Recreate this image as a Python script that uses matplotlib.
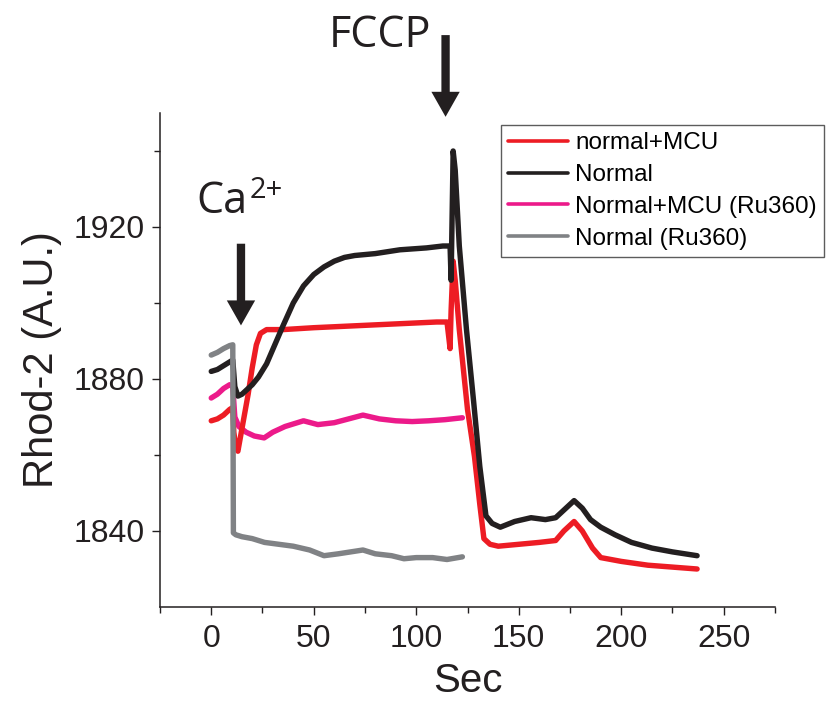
import matplotlib
matplotlib.use("Agg")
import matplotlib.pyplot as plt
from matplotlib.ticker import FixedLocator
from matplotlib import font_manager

names = {f.name for f in font_manager.fontManager.ttflist}
SANS = "Liberation Sans" if "Liberation Sans" in names else "DejaVu Sans"
ANNOT = "Open Sans" if "Open Sans" in names else SANS

# ---------------- data ----------------
t_red = [0, 3, 6, 9, 10.5, 11, 12, 13, 16, 18, 20, 22, 24, 27, 35, 50, 70, 90, 110, 115,
         116.5, 117, 118, 119, 121, 125, 128.4, 131, 133, 136, 140, 150, 160, 168, 172, 177,
         181, 186, 190, 200, 213, 225, 237]
v_red = [1869, 1869.5, 1870.5, 1872, 1872.5, 1866, 1862, 1861, 1870, 1876, 1883, 1889,
         1892, 1893, 1893, 1893.5, 1894, 1894.5, 1895, 1895,
         1888, 1898, 1911, 1906, 1893, 1872, 1859.6, 1847, 1838, 1836.5, 1836, 1836.5, 1837,
         1837.5, 1840, 1842.5, 1840, 1835.5, 1833, 1832, 1831, 1830.5, 1830]

t_black = [0, 3, 6, 9, 10.5, 11.5, 13, 15, 17, 20, 23, 27, 31, 35, 40, 45, 50, 55, 60, 65,
           70, 80, 92, 105, 113, 116.5, 117, 118, 119, 121, 124.5, 128, 131, 134, 137, 141,
           148, 156, 163, 168, 172, 177, 181, 185, 190, 197, 205, 215, 225, 237]
v_black = [1882, 1882.5, 1883.5, 1884.5, 1885, 1878, 1875.5, 1876, 1877, 1878.5, 1880.5,
           1884, 1889, 1894, 1900, 1904.5, 1907.5, 1909.5, 1911, 1912, 1912.5, 1913, 1914,
           1914.5, 1915, 1915, 1906, 1940, 1935, 1915, 1893, 1874, 1857, 1844, 1842, 1841,
           1842.5, 1843.5, 1843, 1843.5, 1845.5, 1848, 1846, 1843, 1841, 1839, 1837, 1835.5,
           1834.5, 1833.5]

t_pink = [0, 3, 6, 9, 10.5, 11.5, 13.5, 17, 21, 25.8, 30, 36, 45, 52, 60, 67, 74, 82, 90,
          98, 106, 114, 122.5]
v_pink = [1875, 1876, 1877.5, 1878.5, 1878, 1870, 1867.5, 1866, 1865, 1864.5, 1866, 1867.5,
          1869, 1868, 1868.5, 1869.5, 1870.5, 1869.5, 1869, 1868.8, 1869, 1869.3, 1869.8]

t_gray = [0, 3, 6, 9, 10.5, 10.8, 12, 15, 20, 26, 33, 40, 48, 55, 62, 68, 74, 80, 88, 94,
          100, 108, 115, 122.5]
v_gray = [1886.3, 1887, 1888, 1888.8, 1889, 1839.5, 1839, 1838.5, 1838, 1837, 1836.5, 1836,
          1835, 1833.5, 1834, 1834.5, 1835, 1834, 1833.5, 1832.7, 1833, 1833, 1832.5, 1833.2]

labels = ["normal+MCU", "Normal", "Normal+MCU (Ru360)", "Normal (Ru360)"]
colors = ["#ed1c24", "#231f20", "#ec1a8a", "#808285"]

x_major = [0, 50, 100, 150, 200, 250]
x_minor = [-25, 25, 75, 125, 175, 225, 275]
y_major = [1840, 1880, 1920]
y_minor = [1860, 1900, 1940]

# ---------------- figure ----------------
fig = plt.figure(figsize=(8.29, 7.07), dpi=100)
ax = fig.add_axes([160 / 829, 100 / 707, 615 / 829, 494 / 707])

lw = 3.9
series = [(t_red, v_red), (t_black, v_black), (t_pink, v_pink), (t_gray, v_gray)]
zorders = [3, 4, 2, 5]
handles = []
for (t, v), c, lab, z in zip(series, colors, labels, zorders):
    h, = ax.plot(t, v, color=c, lw=lw, label=lab, zorder=z, solid_joinstyle="round",
                 solid_capstyle="round")
    handles.append(h)

ax.set_xlim(-25, 275)
ax.set_ylim(1820, 1950)
ax.xaxis.set_major_locator(FixedLocator(x_major))
ax.xaxis.set_minor_locator(FixedLocator(x_minor))
ax.yaxis.set_major_locator(FixedLocator(y_major))
ax.yaxis.set_minor_locator(FixedLocator(y_minor))

for s in ["top", "right"]:
    ax.spines[s].set_visible(False)
for s in ["left", "bottom"]:
    ax.spines[s].set_linewidth(1.1)
    ax.spines[s].set_color("#231f20")

ax.tick_params(which="major", direction="out", length=6, width=1.0, color="#231f20",
               labelcolor="#231f20", labelsize=23)
ax.tick_params(which="minor", direction="out", length=4, width=1.0, color="#231f20")
ax.tick_params(axis="x", which="major", pad=6)
ax.tick_params(axis="y", which="major", pad=5)
for lab in ax.get_xticklabels() + ax.get_yticklabels():
    lab.set_fontfamily(SANS)

ax.set_xlabel("Sec", fontsize=29, fontfamily=SANS, color="#231f20", labelpad=6)
ax.set_ylabel("Rhod-2 (A.U.)", fontsize=30, fontfamily=SANS, color="#231f20", labelpad=8)

# legend
leg = ax.legend(handles=handles, labels=labels, loc="upper left",
                bbox_to_anchor=(501 / 829, 1 - 125 / 707), bbox_transform=fig.transFigure,
                prop={"family": SANS, "size": 17.5}, frameon=True, fancybox=False,
                edgecolor="#333333", handlelength=2.45, handletextpad=0.3,
                labelspacing=0.4, borderpad=0.3, borderaxespad=0)
leg.get_frame().set_linewidth(1.0)
for lh in leg.get_lines():
    lh.set_linewidth(2.6)

# annotations: arrows and labels
arrow_props = dict(arrowstyle="simple,head_length=0.9,head_width=1.02,tail_width=0.3",
                   lw=0, color="#231f20", shrinkA=0, shrinkB=0, mutation_scale=20)
ax.annotate("", xy=(14.5, 1894.1), xytext=(14.5, 1915.6), arrowprops=arrow_props,
            annotation_clip=False)
ax.annotate("", xy=(114.3, 1949.0), xytext=(114.3, 1970.5), arrowprops=arrow_props,
            annotation_clip=False)
ax.text(-7.3, 1923.7, "Ca", fontsize=31, fontfamily=ANNOT, color="#231f20",
        ha="left", va="baseline", clip_on=False)
ax.text(18.6, 1927.6, "2+", fontsize=21, fontfamily=ANNOT, color="#231f20",
        ha="left", va="baseline", clip_on=False)
ax.text(57.5, 1967.3, "FCCP", fontsize=31, fontfamily=ANNOT, color="#231f20",
        ha="left", va="baseline", clip_on=False)

fig.savefig("out.png", dpi=100)
